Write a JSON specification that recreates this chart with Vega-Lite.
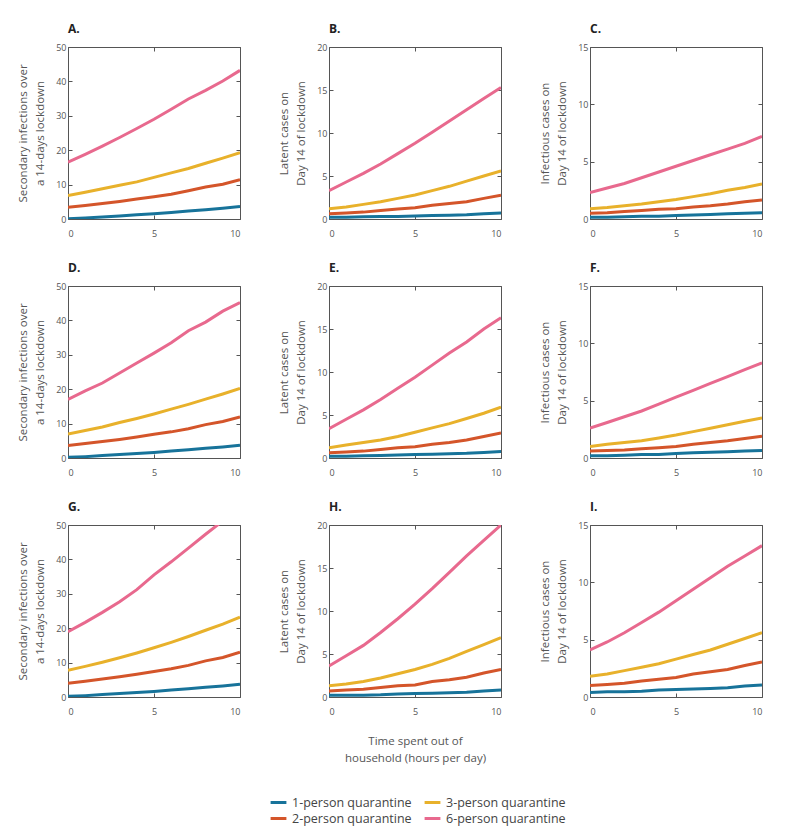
{
"$schema":"https://vega.github.io/schema/vega-lite/v6.json",
"padding":{"left":17,"top":22,"right":5,"bottom":5},
"bounds":"flush",
"columns":3,
"spacing":{"row":67,"column":89},
"data":{"values":[
{"p":"A","x":0,"q1":0.1,"q2":3.4,"q3":6.8,"q6":16.5},
{"p":"A","x":1,"q1":0.3,"q2":3.9,"q3":7.8,"q6":18.8},
{"p":"A","x":2,"q1":0.6,"q2":4.5,"q3":8.8,"q6":21.2},
{"p":"A","x":3,"q1":0.9,"q2":5.1,"q3":9.8,"q6":23.7},
{"p":"A","x":4,"q1":1.2,"q2":5.8,"q3":10.8,"q6":26.3},
{"p":"A","x":5,"q1":1.5,"q2":6.5,"q3":12.1,"q6":29.0},
{"p":"A","x":6,"q1":1.9,"q2":7.2,"q3":13.4,"q6":31.9},
{"p":"A","x":7,"q1":2.3,"q2":8.2,"q3":14.7,"q6":34.9},
{"p":"A","x":8,"q1":2.7,"q2":9.3,"q3":16.2,"q6":37.4},
{"p":"A","x":9,"q1":3.1,"q2":10.1,"q3":17.7,"q6":40.1},
{"p":"A","x":10,"q1":3.6,"q2":11.4,"q3":19.3,"q6":43.2},
{"p":"B","x":0,"q1":0.2,"q2":0.6,"q3":1.2,"q6":3.3},
{"p":"B","x":1,"q1":0.2,"q2":0.7,"q3":1.4,"q6":4.3},
{"p":"B","x":2,"q1":0.25,"q2":0.8,"q3":1.7,"q6":5.3},
{"p":"B","x":3,"q1":0.3,"q2":1.0,"q3":2.0,"q6":6.4},
{"p":"B","x":4,"q1":0.3,"q2":1.15,"q3":2.4,"q6":7.6},
{"p":"B","x":5,"q1":0.35,"q2":1.3,"q3":2.8,"q6":8.8},
{"p":"B","x":6,"q1":0.4,"q2":1.6,"q3":3.3,"q6":10.1},
{"p":"B","x":7,"q1":0.45,"q2":1.8,"q3":3.8,"q6":11.4},
{"p":"B","x":8,"q1":0.5,"q2":2.0,"q3":4.4,"q6":12.7},
{"p":"B","x":9,"q1":0.6,"q2":2.4,"q3":5.0,"q6":14.0},
{"p":"B","x":10,"q1":0.7,"q2":2.75,"q3":5.6,"q6":15.3},
{"p":"C","x":0,"q1":0.15,"q2":0.5,"q3":0.9,"q6":2.3},
{"p":"C","x":1,"q1":0.15,"q2":0.55,"q3":1.0,"q6":2.7},
{"p":"C","x":2,"q1":0.2,"q2":0.65,"q3":1.15,"q6":3.1},
{"p":"C","x":3,"q1":0.25,"q2":0.75,"q3":1.3,"q6":3.6},
{"p":"C","x":4,"q1":0.25,"q2":0.85,"q3":1.5,"q6":4.1},
{"p":"C","x":5,"q1":0.3,"q2":0.9,"q3":1.7,"q6":4.6},
{"p":"C","x":6,"q1":0.35,"q2":1.05,"q3":1.95,"q6":5.1},
{"p":"C","x":7,"q1":0.4,"q2":1.15,"q3":2.2,"q6":5.6},
{"p":"C","x":8,"q1":0.45,"q2":1.3,"q3":2.5,"q6":6.1},
{"p":"C","x":9,"q1":0.5,"q2":1.5,"q3":2.75,"q6":6.6},
{"p":"C","x":10,"q1":0.55,"q2":1.65,"q3":3.05,"q6":7.2},
{"p":"D","x":0,"q1":0.2,"q2":3.6,"q3":7.0,"q6":17.0},
{"p":"D","x":1,"q1":0.4,"q2":4.2,"q3":8.0,"q6":19.5},
{"p":"D","x":2,"q1":0.7,"q2":4.8,"q3":9.0,"q6":21.8},
{"p":"D","x":3,"q1":1.0,"q2":5.4,"q3":10.3,"q6":24.7},
{"p":"D","x":4,"q1":1.3,"q2":6.1,"q3":11.5,"q6":27.6},
{"p":"D","x":5,"q1":1.6,"q2":6.9,"q3":12.8,"q6":30.5},
{"p":"D","x":6,"q1":2.0,"q2":7.6,"q3":14.2,"q6":33.5},
{"p":"D","x":7,"q1":2.4,"q2":8.5,"q3":15.6,"q6":37.0},
{"p":"D","x":8,"q1":2.8,"q2":9.7,"q3":17.1,"q6":39.5},
{"p":"D","x":9,"q1":3.2,"q2":10.6,"q3":18.6,"q6":42.7},
{"p":"D","x":10,"q1":3.7,"q2":11.9,"q3":20.2,"q6":45.2},
{"p":"E","x":0,"q1":0.2,"q2":0.6,"q3":1.2,"q6":3.4},
{"p":"E","x":1,"q1":0.2,"q2":0.7,"q3":1.5,"q6":4.5},
{"p":"E","x":2,"q1":0.25,"q2":0.8,"q3":1.8,"q6":5.6},
{"p":"E","x":3,"q1":0.3,"q2":1.0,"q3":2.1,"q6":6.8},
{"p":"E","x":4,"q1":0.35,"q2":1.2,"q3":2.5,"q6":8.1},
{"p":"E","x":5,"q1":0.4,"q2":1.3,"q3":3.0,"q6":9.4},
{"p":"E","x":6,"q1":0.45,"q2":1.6,"q3":3.5,"q6":10.8},
{"p":"E","x":7,"q1":0.5,"q2":1.8,"q3":4.0,"q6":12.2},
{"p":"E","x":8,"q1":0.55,"q2":2.1,"q3":4.6,"q6":13.5},
{"p":"E","x":9,"q1":0.65,"q2":2.5,"q3":5.2,"q6":15.0},
{"p":"E","x":10,"q1":0.75,"q2":2.9,"q3":5.9,"q6":16.3},
{"p":"F","x":0,"q1":0.2,"q2":0.6,"q3":1.0,"q6":2.6},
{"p":"F","x":1,"q1":0.2,"q2":0.65,"q3":1.2,"q6":3.1},
{"p":"F","x":2,"q1":0.25,"q2":0.7,"q3":1.35,"q6":3.6},
{"p":"F","x":3,"q1":0.3,"q2":0.8,"q3":1.5,"q6":4.1},
{"p":"F","x":4,"q1":0.3,"q2":0.9,"q3":1.75,"q6":4.7},
{"p":"F","x":5,"q1":0.4,"q2":1.0,"q3":2.0,"q6":5.3},
{"p":"F","x":6,"q1":0.45,"q2":1.2,"q3":2.3,"q6":5.9},
{"p":"F","x":7,"q1":0.5,"q2":1.35,"q3":2.6,"q6":6.5},
{"p":"F","x":8,"q1":0.55,"q2":1.5,"q3":2.9,"q6":7.1},
{"p":"F","x":9,"q1":0.6,"q2":1.7,"q3":3.2,"q6":7.7},
{"p":"F","x":10,"q1":0.65,"q2":1.9,"q3":3.5,"q6":8.3},
{"p":"G","x":0,"q1":0.2,"q2":4.0,"q3":7.8,"q6":19.0},
{"p":"G","x":1,"q1":0.4,"q2":4.6,"q3":8.9,"q6":21.7},
{"p":"G","x":2,"q1":0.7,"q2":5.2,"q3":10.1,"q6":24.6},
{"p":"G","x":3,"q1":1.0,"q2":5.9,"q3":11.4,"q6":27.7},
{"p":"G","x":4,"q1":1.3,"q2":6.6,"q3":12.8,"q6":31.2},
{"p":"G","x":5,"q1":1.6,"q2":7.4,"q3":14.3,"q6":35.5},
{"p":"G","x":6,"q1":2.0,"q2":8.2,"q3":15.9,"q6":39.3},
{"p":"G","x":7,"q1":2.4,"q2":9.2,"q3":17.6,"q6":43.3},
{"p":"G","x":8,"q1":2.8,"q2":10.5,"q3":19.4,"q6":47.3},
{"p":"G","x":9,"q1":3.2,"q2":11.5,"q3":21.2,"q6":51.2},
{"p":"G","x":10,"q1":3.7,"q2":13.0,"q3":23.2,"q6":55.0},
{"p":"H","x":0,"q1":0.2,"q2":0.7,"q3":1.3,"q6":3.6},
{"p":"H","x":1,"q1":0.2,"q2":0.8,"q3":1.5,"q6":4.8},
{"p":"H","x":2,"q1":0.2,"q2":0.9,"q3":1.8,"q6":6.0},
{"p":"H","x":3,"q1":0.25,"q2":1.1,"q3":2.2,"q6":7.5},
{"p":"H","x":4,"q1":0.35,"q2":1.3,"q3":2.7,"q6":9.1},
{"p":"H","x":5,"q1":0.4,"q2":1.4,"q3":3.2,"q6":10.8},
{"p":"H","x":6,"q1":0.45,"q2":1.8,"q3":3.8,"q6":12.6},
{"p":"H","x":7,"q1":0.5,"q2":2.0,"q3":4.5,"q6":14.5},
{"p":"H","x":8,"q1":0.55,"q2":2.3,"q3":5.3,"q6":16.4},
{"p":"H","x":9,"q1":0.7,"q2":2.8,"q3":6.1,"q6":18.2},
{"p":"H","x":10,"q1":0.8,"q2":3.2,"q3":6.9,"q6":20.0},
{"p":"I","x":0,"q1":0.4,"q2":1.0,"q3":1.8,"q6":4.1},
{"p":"I","x":1,"q1":0.45,"q2":1.1,"q3":2.0,"q6":4.8},
{"p":"I","x":2,"q1":0.45,"q2":1.2,"q3":2.3,"q6":5.6},
{"p":"I","x":3,"q1":0.5,"q2":1.4,"q3":2.6,"q6":6.5},
{"p":"I","x":4,"q1":0.6,"q2":1.55,"q3":2.9,"q6":7.4},
{"p":"I","x":5,"q1":0.65,"q2":1.7,"q3":3.3,"q6":8.4},
{"p":"I","x":6,"q1":0.7,"q2":2.0,"q3":3.7,"q6":9.4},
{"p":"I","x":7,"q1":0.75,"q2":2.2,"q3":4.1,"q6":10.4},
{"p":"I","x":8,"q1":0.8,"q2":2.4,"q3":4.6,"q6":11.4},
{"p":"I","x":9,"q1":0.95,"q2":2.75,"q3":5.1,"q6":12.3},
{"p":"I","x":10,"q1":1.05,"q2":3.05,"q3":5.6,"q6":13.2}
]},
"concat":[
{"title":"A.","width":172,"height":172,"transform":[{"filter":"datum.p==='A'"},{"fold":["q1","q2","q3","q6"],"as":["g","v"]}],
"resolve":{"axis":{"x":"independent","y":"independent"}},
"layer":[
{"mark":{"type":"line","strokeWidth":3,"clip":true},"encoding":{
"x":{"field":"x","type":"quantitative","scale":{"domain":[0,10]},"axis":{"values":[0,5,10],"title":null}},
"y":{"field":"v","type":"quantitative","scale":{"domain":[0,50]},"axis":{"values":[0,10,20,30,40,50],"title":["Secondary infections over","a 14-days lockdown"]}},
"color":{"field":"g","type":"nominal","scale":{"domain":["q1","q2","q3","q6"],"range":["#17739a","#d4552a","#e8b12b","#e8698e"]},"legend":{"title":null,"orient":"none","legendX":201,"legendY":746,"columns":2,"symbolType":"stroke","symbolStrokeWidth":3,"symbolSize":250,"labelFontSize":12.5,"labelColor":"#444","rowPadding":0,"columnPadding":6,"labelExpr":"{'q1':'1-person quarantine','q2':'2-person quarantine','q3':'3-person quarantine','q6':'6-person quarantine'}[datum.label]"}}}},
{"mark":{"type":"line","opacity":0},"encoding":{
"x":{"field":"x","type":"quantitative","scale":{"domain":[0,10]},"axis":{"orient":"top","values":[0,5,10],"labels":false,"title":null}},
"y":{"field":"v","type":"quantitative","scale":{"domain":[0,50]},"axis":{"orient":"right","values":[0,10,20,30,40,50],"labels":false,"title":null}}}}
]},
{"title":"B.","width":172,"height":172,"transform":[{"filter":"datum.p==='B'"},{"fold":["q1","q2","q3","q6"],"as":["g","v"]}],
"resolve":{"axis":{"x":"independent","y":"independent"}},
"layer":[
{"mark":{"type":"line","strokeWidth":3,"clip":true},"encoding":{
"x":{"field":"x","type":"quantitative","scale":{"domain":[0,10]},"axis":{"values":[0,5,10],"title":null}},
"y":{"field":"v","type":"quantitative","scale":{"domain":[0,20]},"axis":{"values":[0,5,10,15,20],"title":["Latent cases on","Day 14 of lockdown"]}},
"color":{"field":"g","type":"nominal","scale":{"domain":["q1","q2","q3","q6"],"range":["#17739a","#d4552a","#e8b12b","#e8698e"]}}}},
{"mark":{"type":"line","opacity":0},"encoding":{
"x":{"field":"x","type":"quantitative","scale":{"domain":[0,10]},"axis":{"orient":"top","values":[0,5,10],"labels":false,"title":null}},
"y":{"field":"v","type":"quantitative","scale":{"domain":[0,20]},"axis":{"orient":"right","values":[0,5,10,15,20],"labels":false,"title":null}}}}
]},
{"title":"C.","width":172,"height":172,"transform":[{"filter":"datum.p==='C'"},{"fold":["q1","q2","q3","q6"],"as":["g","v"]}],
"resolve":{"axis":{"x":"independent","y":"independent"}},
"layer":[
{"mark":{"type":"line","strokeWidth":3,"clip":true},"encoding":{
"x":{"field":"x","type":"quantitative","scale":{"domain":[0,10]},"axis":{"values":[0,5,10],"title":null}},
"y":{"field":"v","type":"quantitative","scale":{"domain":[0,15]},"axis":{"values":[0,5,10,15],"title":["Infectious cases on","Day 14 of lockdown"]}},
"color":{"field":"g","type":"nominal","scale":{"domain":["q1","q2","q3","q6"],"range":["#17739a","#d4552a","#e8b12b","#e8698e"]}}}},
{"mark":{"type":"line","opacity":0},"encoding":{
"x":{"field":"x","type":"quantitative","scale":{"domain":[0,10]},"axis":{"orient":"top","values":[0,5,10],"labels":false,"title":null}},
"y":{"field":"v","type":"quantitative","scale":{"domain":[0,15]},"axis":{"orient":"right","values":[0,5,10,15],"labels":false,"title":null}}}}
]},
{"title":"D.","width":172,"height":172,"transform":[{"filter":"datum.p==='D'"},{"fold":["q1","q2","q3","q6"],"as":["g","v"]}],
"resolve":{"axis":{"x":"independent","y":"independent"}},
"layer":[
{"mark":{"type":"line","strokeWidth":3,"clip":true},"encoding":{
"x":{"field":"x","type":"quantitative","scale":{"domain":[0,10]},"axis":{"values":[0,5,10],"title":null}},
"y":{"field":"v","type":"quantitative","scale":{"domain":[0,50]},"axis":{"values":[0,10,20,30,40,50],"title":["Secondary infections over","a 14-days lockdown"]}},
"color":{"field":"g","type":"nominal","scale":{"domain":["q1","q2","q3","q6"],"range":["#17739a","#d4552a","#e8b12b","#e8698e"]}}}},
{"mark":{"type":"line","opacity":0},"encoding":{
"x":{"field":"x","type":"quantitative","scale":{"domain":[0,10]},"axis":{"orient":"top","values":[0,5,10],"labels":false,"title":null}},
"y":{"field":"v","type":"quantitative","scale":{"domain":[0,50]},"axis":{"orient":"right","values":[0,10,20,30,40,50],"labels":false,"title":null}}}}
]},
{"title":"E.","width":172,"height":172,"transform":[{"filter":"datum.p==='E'"},{"fold":["q1","q2","q3","q6"],"as":["g","v"]}],
"resolve":{"axis":{"x":"independent","y":"independent"}},
"layer":[
{"mark":{"type":"line","strokeWidth":3,"clip":true},"encoding":{
"x":{"field":"x","type":"quantitative","scale":{"domain":[0,10]},"axis":{"values":[0,5,10],"title":null}},
"y":{"field":"v","type":"quantitative","scale":{"domain":[0,20]},"axis":{"values":[0,5,10,15,20],"title":["Latent cases on","Day 14 of lockdown"]}},
"color":{"field":"g","type":"nominal","scale":{"domain":["q1","q2","q3","q6"],"range":["#17739a","#d4552a","#e8b12b","#e8698e"]}}}},
{"mark":{"type":"line","opacity":0},"encoding":{
"x":{"field":"x","type":"quantitative","scale":{"domain":[0,10]},"axis":{"orient":"top","values":[0,5,10],"labels":false,"title":null}},
"y":{"field":"v","type":"quantitative","scale":{"domain":[0,20]},"axis":{"orient":"right","values":[0,5,10,15,20],"labels":false,"title":null}}}}
]},
{"title":"F.","width":172,"height":172,"transform":[{"filter":"datum.p==='F'"},{"fold":["q1","q2","q3","q6"],"as":["g","v"]}],
"resolve":{"axis":{"x":"independent","y":"independent"}},
"layer":[
{"mark":{"type":"line","strokeWidth":3,"clip":true},"encoding":{
"x":{"field":"x","type":"quantitative","scale":{"domain":[0,10]},"axis":{"values":[0,5,10],"title":null}},
"y":{"field":"v","type":"quantitative","scale":{"domain":[0,15]},"axis":{"values":[0,5,10,15],"title":["Infectious cases on","Day 14 of lockdown"]}},
"color":{"field":"g","type":"nominal","scale":{"domain":["q1","q2","q3","q6"],"range":["#17739a","#d4552a","#e8b12b","#e8698e"]}}}},
{"mark":{"type":"line","opacity":0},"encoding":{
"x":{"field":"x","type":"quantitative","scale":{"domain":[0,10]},"axis":{"orient":"top","values":[0,5,10],"labels":false,"title":null}},
"y":{"field":"v","type":"quantitative","scale":{"domain":[0,15]},"axis":{"orient":"right","values":[0,5,10,15],"labels":false,"title":null}}}}
]},
{"title":"G.","width":172,"height":172,"transform":[{"filter":"datum.p==='G'"},{"fold":["q1","q2","q3","q6"],"as":["g","v"]}],
"resolve":{"axis":{"x":"independent","y":"independent"}},
"layer":[
{"mark":{"type":"line","strokeWidth":3,"clip":true},"encoding":{
"x":{"field":"x","type":"quantitative","scale":{"domain":[0,10]},"axis":{"values":[0,5,10],"title":null}},
"y":{"field":"v","type":"quantitative","scale":{"domain":[0,50]},"axis":{"values":[0,10,20,30,40,50],"title":["Secondary infections over","a 14-days lockdown"]}},
"color":{"field":"g","type":"nominal","scale":{"domain":["q1","q2","q3","q6"],"range":["#17739a","#d4552a","#e8b12b","#e8698e"]}}}},
{"mark":{"type":"line","opacity":0,"clip":true},"encoding":{
"x":{"field":"x","type":"quantitative","scale":{"domain":[0,10]},"axis":{"orient":"top","values":[0,5,10],"labels":false,"title":null}},
"y":{"field":"v","type":"quantitative","scale":{"domain":[0,50]},"axis":{"orient":"right","values":[0,10,20,30,40,50],"labels":false,"title":null}}}}
]},
{"title":"H.","width":172,"height":172,"transform":[{"filter":"datum.p==='H'"},{"fold":["q1","q2","q3","q6"],"as":["g","v"]}],
"resolve":{"axis":{"x":"independent","y":"independent"}},
"layer":[
{"mark":{"type":"line","strokeWidth":3,"clip":true},"encoding":{
"x":{"field":"x","type":"quantitative","scale":{"domain":[0,10]},"axis":{"values":[0,5,10],"title":["Time spent out of","household (hours per day)"],"titlePadding":19}},
"y":{"field":"v","type":"quantitative","scale":{"domain":[0,20]},"axis":{"values":[0,5,10,15,20],"title":["Latent cases on","Day 14 of lockdown"]}},
"color":{"field":"g","type":"nominal","scale":{"domain":["q1","q2","q3","q6"],"range":["#17739a","#d4552a","#e8b12b","#e8698e"]}}}},
{"mark":{"type":"line","opacity":0},"encoding":{
"x":{"field":"x","type":"quantitative","scale":{"domain":[0,10]},"axis":{"orient":"top","values":[0,5,10],"labels":false,"title":null}},
"y":{"field":"v","type":"quantitative","scale":{"domain":[0,20]},"axis":{"orient":"right","values":[0,5,10,15,20],"labels":false,"title":null}}}}
]},
{"title":"I.","width":172,"height":172,"transform":[{"filter":"datum.p==='I'"},{"fold":["q1","q2","q3","q6"],"as":["g","v"]}],
"resolve":{"axis":{"x":"independent","y":"independent"}},
"layer":[
{"mark":{"type":"line","strokeWidth":3,"clip":true},"encoding":{
"x":{"field":"x","type":"quantitative","scale":{"domain":[0,10]},"axis":{"values":[0,5,10],"title":null}},
"y":{"field":"v","type":"quantitative","scale":{"domain":[0,15]},"axis":{"values":[0,5,10,15],"title":["Infectious cases on","Day 14 of lockdown"]}},
"color":{"field":"g","type":"nominal","scale":{"domain":["q1","q2","q3","q6"],"range":["#17739a","#d4552a","#e8b12b","#e8698e"]}}}},
{"mark":{"type":"line","opacity":0},"encoding":{
"x":{"field":"x","type":"quantitative","scale":{"domain":[0,10]},"axis":{"orient":"top","values":[0,5,10],"labels":false,"title":null}},
"y":{"field":"v","type":"quantitative","scale":{"domain":[0,15]},"axis":{"orient":"right","values":[0,5,10,15],"labels":false,"title":null}}}}
]}
],
"config":{
"font":"Open Sans",
"view":{"stroke":"#555","strokeWidth":1},
"axis":{"domain":false,"grid":false,"tickSize":-4,"tickColor":"#555","labelFontSize":9,"labelColor":"#555","titleFontSize":11.5,"titleFontWeight":"normal","titleColor":"#555","titleLineHeight":17},
"axisX":{"labelPadding":14},
"axisY":{"labelPadding":6,"titlePadding":10},
"title":{"anchor":"start","frame":"group","fontSize":12,"fontWeight":"bold","color":"#222","offset":7},
"legend":{"labelFont":"Open Sans"}
}
}
